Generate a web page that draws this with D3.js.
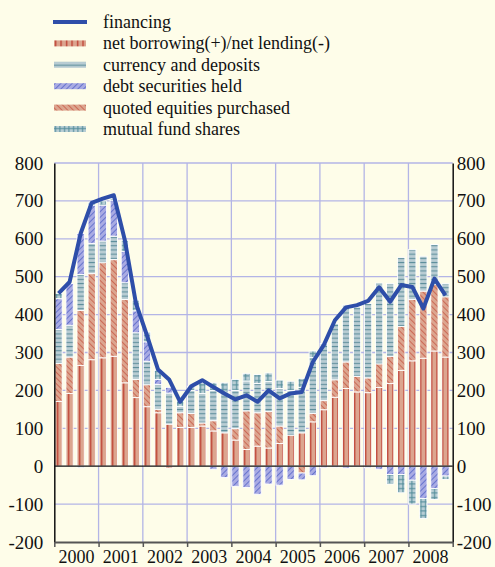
<!DOCTYPE html>
<html>
<head>
<meta charset="utf-8">
<title>Financing and its counterparts</title>
<script src="https://cdn.jsdelivr.net/npm/d3@7"></script>
<style>
  body { margin: 0; background: #fefde9; }
  text { font-family: "Liberation Serif", "Times New Roman", serif; fill: #111; }
</style>
</head>
<body>
<div id="chart"></div>
<script>
// quarterly data, 2000Q1 - 2008Q4
const years = [2000, 2001, 2002, 2003, 2004, 2005, 2006, 2007, 2008];
const quarterNames = ["Q1", "Q2", "Q3", "Q4"];

const netBorrowing = [171,192,266,281,286,290,220,181,157,141,111,102,102,106,93,88,69,44,53,48,60,82,88,117,149,182,205,196,194,208,218,253,278,285,304,288];
const quotedEquities = [100,96,145,227,251,255,220,48,58,9,-5,39,37,8,27,0,30,102,88,96,46,0,-18,22,24,46,70,41,39,62,72,116,162,177,176,159];
const currencyDeposits = [90,84,95,80,57,62,44,123,62,66,82,17,61,78,80,105,101,79,77,80,99,118,120,148,151,148,150,183,196,213,192,182,132,92,105,35];
const debtSecurities = [81,110,108,101,95,95,83,58,51,13,15,0,0,0,-8,-30,-53,-56,-74,-47,-50,-35,-18,-25,-4,-3,-5,-2,-4,-8,-22,-22,-37,-85,-59,-26];
const mutualFunds = [14,0,-4,6,11,5,29,28,26,24,0,14,11,28,20,27,29,20,24,22,22,24,23,17,0,0,0,0,0,0,-25,-48,-63,-53,-29,-9];
const financing = [456,486,614,695,706,715,596,430,345,255,229,170,211,227,209,192,176,187,170,200,179,192,196,275,320,385,419,425,436,472,434,478,473,416,495,451];

const yTicks = [-200, -100, 0, 100, 200, 300, 400, 500, 600, 700, 800];

const series = [
  { key: "nb", label: "net borrowing(+)/net lending(-)", values: netBorrowing },
  { key: "eq", label: "quoted equities purchased", values: quotedEquities },
  { key: "cd", label: "currency and deposits", values: currencyDeposits },
  { key: "ds", label: "debt securities held", values: debtSecurities },
  { key: "mf", label: "mutual fund shares", values: mutualFunds }
];
const legendOrder = ["nb", "cd", "ds", "eq", "mf"];

const width = 495, height = 567;
const plot = { left: 54.3, right: 452.7, top: 163, bottom: 542 };

const quarters = years.flatMap(y => quarterNames.map(q => y + q));
const table = quarters.map((q, i) => {
  const row = { q };
  series.forEach(s => row[s.key] = s.values[i]);
  return row;
});

const svg = d3.select("#chart").append("svg")
  .attr("width", width)
  .attr("height", height);

svg.append("rect").attr("width", width).attr("height", height).attr("fill", "#fefde9");

// fill patterns
const defs = svg.append("defs");
function pattern(id, w, h, bg, rot) {
  const p = defs.append("pattern")
    .attr("id", id)
    .attr("patternUnits", "userSpaceOnUse")
    .attr("width", w).attr("height", h);
  if (rot) p.attr("patternTransform", `rotate(${rot})`);
  p.append("rect").attr("width", w).attr("height", h).attr("fill", bg);
  return p;
}
pattern("p-nb", 5.5, 4, "#dca58f")
  .append("rect").attr("x", 2).attr("width", 1.2).attr("height", 4).attr("fill", "#bb3527");
pattern("p-eq", 4, 4, "#dca58f", -45)
  .append("rect").attr("x", 0).attr("width", 0.7).attr("height", 4).attr("fill", "#c4503d");
pattern("p-cd", 4, 4.2, "#b9cdd3")
  .append("rect").attr("y", 1.6).attr("width", 4).attr("height", 1.1).attr("fill", "#5f8f9c");
pattern("p-ds", 4, 4, "#a9abe3", 45)
  .append("rect").attr("x", 0).attr("width", 0.7).attr("height", 4).attr("fill", "#4a5cc4");
const mf = pattern("p-mf", 4.5, 4.5, "#b8ced5");
mf.append("rect").attr("y", 2).attr("width", 4.5).attr("height", 1).attr("fill", "#4f8a98");
mf.append("rect").attr("x", 2).attr("width", 1).attr("height", 4.5).attr("fill", "#4f8a98");

const y = d3.scaleLinear().domain([-200, 800]).range([plot.bottom, plot.top]);
const x = d3.scaleBand().domain(quarters).range([53, 451]).paddingInner(0.34).paddingOuter(0.17);
const yr = d3.scaleLinear().domain([2000, 2009]).range([plot.left, plot.right]);

// grid
const grid = svg.append("g").attr("stroke", "#b3b5e6").attr("stroke-width", 1.3);
grid.selectAll(".h").data(yTicks.filter(d => d !== 0 && d !== -200)).enter().append("line")
  .attr("x1", plot.left).attr("x2", plot.right)
  .attr("y1", d => y(d)).attr("y2", d => y(d));
grid.selectAll(".v").data(years.slice(1)).enter().append("line")
  .attr("x1", d => yr(d)).attr("x2", d => yr(d))
  .attr("y1", plot.top).attr("y2", plot.bottom);

// stacked bars
const stack = d3.stack().keys(series.map(s => s.key)).offset(d3.stackOffsetDiverging);
const layers = stack(table);

svg.append("g").selectAll("g").data(layers).enter().append("g")
  .attr("fill", d => `url(#p-${d.key})`)
  .selectAll("rect").data(d => d).enter().append("rect")
  .attr("x", d => x(d.data.q))
  .attr("width", x.bandwidth())
  .attr("y", d => y(Math.max(d[0], d[1])))
  .attr("height", d => Math.abs(y(d[0]) - y(d[1])))
  .attr("stroke", "#fff")
  .attr("stroke-width", 0.9);

// zero line
svg.append("line")
  .attr("x1", plot.left).attr("x2", plot.right)
  .attr("y1", y(0)).attr("y2", y(0))
  .attr("stroke", "#111").attr("stroke-width", 1.3);

// financing line
const line = d3.line()
  .x((d, i) => x(quarters[i]) + x.bandwidth() / 2)
  .y(d => y(d));
svg.append("path")
  .datum(financing)
  .attr("d", line)
  .attr("fill", "none")
  .attr("stroke", "#2e4ea9")
  .attr("stroke-width", 4)
  .attr("stroke-linejoin", "round");

// axes
const fmt = d => String(d);
const left = svg.append("g").attr("transform", `translate(${plot.left},0)`)
  .call(d3.axisLeft(y).tickValues(yTicks).tickSize(0).tickPadding(11).tickFormat(fmt));
const right = svg.append("g").attr("transform", `translate(${plot.right},0)`)
  .call(d3.axisRight(y).tickValues(yTicks).tickSize(0).tickPadding(4).tickFormat(fmt));
[left, right].forEach(a => {
  a.select(".domain").attr("stroke", "#111").attr("stroke-width", 1.5);
  a.selectAll("text").style("font-size", "19px").attr("font-family", null);
});

const bottom = svg.append("g").attr("transform", `translate(0,${plot.bottom})`)
  .call(d3.axisBottom(yr).tickValues(years.concat([2009])).tickSize(5).tickSizeOuter(0).tickFormat(""));
bottom.select(".domain").attr("stroke", "#555").attr("stroke-width", 2);
bottom.selectAll(".tick line").attr("stroke", "#555").attr("stroke-width", 1.5);

svg.append("g").selectAll("text").data(years).enter().append("text")
  .attr("x", d => yr(d + 0.5))
  .attr("y", 563)
  .attr("text-anchor", "middle")
  .style("font-size", "18px")
  .text(d => d);

// legend
const legend = svg.append("g").attr("transform", "translate(53,0)");
const rowY = d3.scalePoint().domain(["fin"].concat(legendOrder)).range([22, 129]);
legend.append("line")
  .attr("x1", 0).attr("x2", 34)
  .attr("y1", rowY("fin")).attr("y2", rowY("fin"))
  .attr("stroke", "#2e4ea9").attr("stroke-width", 4);
legend.append("text").attr("x", 50).attr("y", rowY("fin") + 6)
  .style("font-size", "18px").text("financing");
legendOrder.forEach(k => {
  const s = series.find(d => d.key === k);
  legend.append("rect")
    .attr("x", 1).attr("y", rowY(k) - 3)
    .attr("width", 32).attr("height", 6)
    .attr("fill", `url(#p-${k})`);
  legend.append("text").attr("x", 50).attr("y", rowY(k) + 6)
    .style("font-size", "18px").text(s.label);
});
</script>
</body>
</html>
